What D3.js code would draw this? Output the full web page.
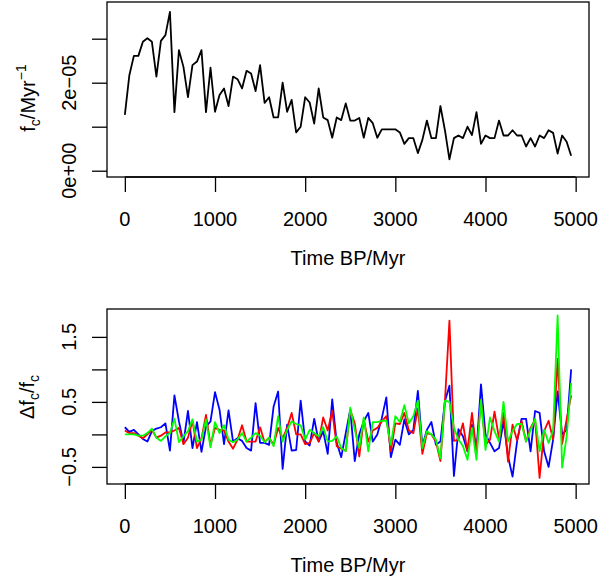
<!DOCTYPE html>
<html><head><meta charset="utf-8">
<script src="https://cdn.jsdelivr.net/npm/d3@7"></script>
<style>body{margin:0;background:#fff}svg{display:block}text{font-family:"Liberation Sans",Arial,Helvetica,sans-serif;fill:#000}</style>
</head><body>
<script>
// time (Myr BP)
const time = [0,50,100,150,200,250,300,350,400,450,500,550,600,650,700,750,800,850,900,950,
1000,1050,1100,1150,1200,1250,1300,1350,1400,1450,1500,1550,1600,1650,1700,1750,1800,1850,1900,1950,
2000,2050,2100,2150,2200,2250,2300,2350,2400,2450,2500,2550,2600,2650,2700,2750,2800,2850,2900,2950,
3000,3050,3100,3150,3200,3250,3300,3350,3400,3450,3500,3550,3600,3650,3700,3750,3800,3850,3900,3950,
4000,4050,4100,4150,4200,4250,4300,4350,4400,4450,4500,4550,4600,4650,4700,4750,4800,4850,4900,4950];
// f_c in units of 1e-5 per Myr
const fc = [1.27,2.17,2.61,2.61,2.93,3.01,2.93,2.14,2.95,3.08,
3.61,1.33,2.74,2.36,1.67,2.40,2.48,2.74,1.33,2.34,
1.34,1.72,1.87,1.47,2.14,2.08,1.87,2.27,2.21,1.81,
2.40,1.54,1.67,1.21,1.21,2.00,1.34,1.61,0.87,1.00,
1.67,1.55,1.07,1.87,1.21,1.15,0.75,1.21,1.15,1.53,
1.14,1.14,1.20,0.75,1.20,1.08,0.75,0.94,0.94,0.94,
0.94,0.87,0.61,0.74,0.74,0.40,0.70,1.14,0.74,0.74,
1.47,0.92,0.26,0.74,0.80,0.74,1.00,0.81,1.33,0.61,
0.80,0.74,0.74,1.14,0.80,0.80,0.92,0.80,0.80,0.55,
0.74,0.55,0.80,0.74,0.92,0.86,0.39,0.80,0.66,0.34];
const blueSeries = [0.11,0.04,0.07,0.0,-0.07,-0.11,0.05,0.09,0.11,0.17,
-0.25,0.60,0.20,-0.13,0.36,-0.21,0.19,-0.27,0.12,0.20,
0.65,0.38,-0.15,0.37,-0.11,-0.06,-0.10,-0.21,-0.25,0.48,
-0.13,-0.13,-0.16,0.43,0.66,-0.53,0.15,-0.25,-0.24,0.52,
-0.11,-0.17,0.24,-0.11,0.05,-0.30,0.54,-0.13,-0.35,0.02,
0.38,-0.41,0.0,0.20,0.33,-0.11,0.0,0.25,0.57,-0.35,
-0.08,-0.16,0.23,0.0,0.07,0.67,-0.18,0.07,0.19,-0.16,
-0.11,0.51,0.75,-0.64,0.08,-0.03,-0.26,0.15,-0.26,0.77,
0.0,-0.13,-0.26,-0.21,0.20,-0.34,-0.65,-0.11,0.24,0.24,
-0.26,0.36,0.33,-0.26,-0.50,-0.08,0.66,0.0,0.07,1.0];
const redSeries = [0.06,0.02,0.02,-0.02,-0.06,0.0,0.07,-0.05,-0.02,0.03,
0.03,0.06,0.10,-0.15,-0.05,0.21,-0.21,-0.06,0.30,-0.16,
0.10,0.07,0.06,-0.11,-0.22,-0.08,0.14,-0.11,-0.11,-0.11,
0.11,-0.12,-0.05,-0.16,0.10,-0.06,0.10,0.33,0.0,0.0,
-0.15,-0.13,0.02,-0.11,0.26,0.06,0.36,-0.18,-0.22,-0.25,
0.38,0.17,-0.34,0.23,-0.11,0.06,0.10,0.20,0.28,-0.26,
0.17,0.16,0.33,0.06,0.02,0.40,-0.30,0.02,0.0,-0.11,
-0.41,0.51,1.75,-0.10,-0.08,0.17,-0.26,0.33,-0.26,0.53,
-0.16,-0.08,0.35,-0.06,0.33,-0.42,0.15,-0.09,0.21,-0.11,
0.10,0.23,-0.67,0.05,0.21,-0.08,1.16,-0.15,0.23,0.60];
const greenSeries = [0.0,0.0,0.0,-0.02,-0.02,0.02,0.09,-0.05,-0.10,-0.03,
0.02,0.24,-0.12,-0.03,0.05,0.23,-0.11,-0.08,0.23,-0.20,
0.19,0.02,0.14,-0.08,-0.12,-0.08,0.02,-0.11,-0.05,0.02,
-0.02,-0.12,-0.05,-0.18,0.28,-0.11,0.07,0.20,0.16,0.14,
-0.08,0.07,0.02,-0.03,0.11,-0.11,-0.10,-0.03,-0.21,-0.26,
0.41,0.07,-0.21,0.26,-0.26,0.19,0.19,0.21,0.21,-0.16,
0.28,0.19,0.45,0.17,0.28,0.52,-0.21,0.05,0.0,-0.08,
-0.37,0.52,0.50,0.10,-0.08,-0.18,-0.39,0.10,-0.39,0.53,
-0.24,0.26,0.05,-0.11,0.50,-0.11,0.05,0.16,0.16,-0.11,
0.07,0.24,-0.26,0.07,-0.13,0.06,1.83,-0.51,-0.03,0.79];
const xTicks = [0,1000,2000,3000,4000,5000];
const topYTicks = [0,1e-5,2e-5,3e-5];
const topYLabels = ["0e+00","","2e\u221205",""];
const botYTicks = [-0.5,0,0.5,1,1.5];
const botYLabels = ["\u22120.5","","0.5","","1.5"];
const seriesColors = ["#0000ff","#ff0000","#00ff00"];

const W=615,H=577, FS=20;
const svg=d3.select("body").append("svg").attr("width",W).attr("height",H);
svg.append("rect").attr("width",W).attr("height",H).attr("fill","#fff");

const L=107,R=589;
const x=d3.scaleLinear().domain([-198,5148]).range([L,R]);

function panel(top,bot,y,yTicks,yLabels,xlabY,titleY){
  const g=svg.append("g");
  // x axis
  const ax=g.append("g").attr("transform",`translate(0,${bot})`)
    .call(d3.axisBottom(x).tickValues(xTicks).tickSize(15).tickSizeOuter(0).tickFormat(""));
  ax.select(".domain").remove();
  ax.selectAll("line").attr("stroke","#000").attr("stroke-width",1.3);
  g.append("line").attr("x1",x(xTicks[0])).attr("x2",x(xTicks[xTicks.length-1]))
    .attr("y1",bot).attr("y2",bot).attr("stroke","#000").attr("stroke-width",1.3);
  g.selectAll(".xl").data(xTicks).join("text").attr("x",d=>x(d)).attr("y",xlabY)
    .attr("text-anchor","middle").attr("font-size",FS).text(d=>d);
  // y axis
  const ay=g.append("g").attr("transform",`translate(${L},0)`)
    .call(d3.axisLeft(y).tickValues(yTicks).tickSize(15).tickSizeOuter(0).tickFormat(""));
  ay.select(".domain").remove();
  ay.selectAll("line").attr("stroke","#000").attr("stroke-width",1.3);
  g.selectAll(".yl").data(yTicks).join("text")
    .attr("transform",(d)=>`translate(76,${y(d)}) rotate(-90)`)
    .attr("text-anchor","middle").attr("font-size",FS).text((d,i)=>yLabels[i]);
  // x title
  g.append("text").attr("x",(L+R)/2).attr("y",titleY).attr("text-anchor","middle")
    .attr("font-size",FS).text("Time BP/Myr");
  return g;
}

// top panel
const T1=2,B1=177;
const y1=d3.scaleLinear().domain([-0.143e-5,3.834e-5]).range([B1,T1]);
const g1=panel(T1,B1,y1,topYTicks,topYLabels,226,265);
g1.append("path").datum(time.map((t,i)=>[t,fc[i]*1e-5]))
  .attr("fill","none").attr("stroke","#000").attr("stroke-width",1.8).attr("stroke-linejoin","round")
  .attr("d",d3.line().x(d=>x(d[0])).y(d=>y1(d[1])));
g1.append("rect").attr("x",L).attr("y",T1).attr("width",R-L).attr("height",B1-T1)
  .attr("fill","none").attr("stroke","#000").attr("stroke-width",1.3);
const t1=g1.append("text").attr("transform",`translate(35,98) rotate(-90)`)
  .attr("text-anchor","middle").attr("font-size",FS);
t1.append("tspan").text("f");
t1.append("tspan").attr("font-size",FS*0.7).attr("dy",5).text("c");
t1.append("tspan").attr("dy",-5).text("/Myr");
t1.append("tspan").attr("font-size",FS*0.7).attr("dy",-9).text("\u22121");

// bottom panel
const T2=309,B2=484;
const y2=d3.scaleLinear().domain([-0.763,1.929]).range([B2,T2]);
const g2=panel(T2,B2,y2,botYTicks,botYLabels,533,572);
const line2=d3.line().x(d=>x(d[0])).y(d=>y2(d[1]));
[blueSeries,redSeries,greenSeries].forEach((s,k)=>{
  g2.append("path").datum(time.map((t,i)=>[t,s[i]]))
    .attr("fill","none").attr("stroke",seriesColors[k]).attr("stroke-width",1.8).attr("stroke-linejoin","round")
    .attr("d",line2);
});
g2.append("rect").attr("x",L).attr("y",T2).attr("width",R-L).attr("height",B2-T2)
  .attr("fill","none").attr("stroke","#000").attr("stroke-width",1.3);
const t2=g2.append("text").attr("transform",`translate(34,397) rotate(-90)`)
  .attr("text-anchor","middle").attr("font-size",FS);
t2.append("tspan").text("\u0394f");
t2.append("tspan").attr("font-size",FS*0.7).attr("dy",5).text("c");
t2.append("tspan").attr("dy",-5).text("/f");
t2.append("tspan").attr("font-size",FS*0.7).attr("dy",5).text("c");
</script>
</body></html>
